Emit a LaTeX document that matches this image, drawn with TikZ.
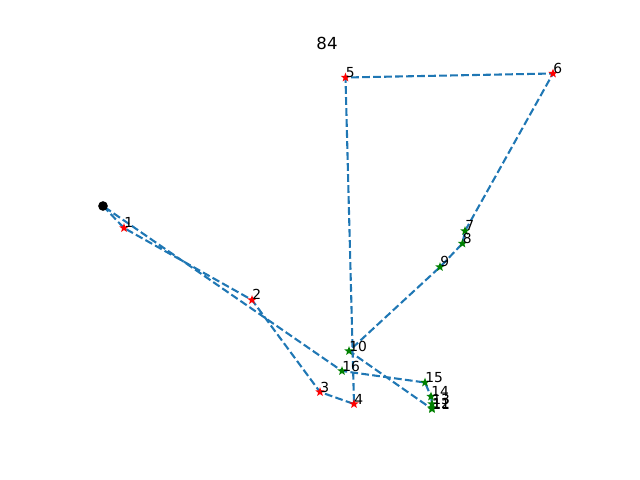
\documentclass[tikz,border=0pt]{standalone}
\usepackage{fontspec}
\setmainfont{DejaVu Sans}
\usetikzlibrary{shapes.geometric}
\definecolor{routeblue}{HTML}{1F77B4}
\definecolor{greenstar}{HTML}{008000}
\tikzset{
  route/.style={routeblue, line width=1.5pt, dash pattern=on 5.55pt off 2.4pt},
  client/.style={star, star points=5, star point ratio=2.4, minimum size=7pt, inner sep=0pt, fill=#1, draw=none},
  depot/.style={circle, fill=black, minimum size=7pt, inner sep=0pt},
  num/.style={anchor=base west, inner sep=0pt, font=\fontsize{10}{12}\selectfont}
}
\newcommand{\clientnode}[2]{\node[client=#2] (p#1) at (c#1) {}; \node[num] (n#1) at (c#1) {#1}}

\begin{document}
\begin{tikzpicture}[x=0.254mm, y=-0.254mm]
                \useasboundingbox (0,0) rectangle (640,480);
                \coordinate (c0) at (103,206);
                \coordinate (c1) at (124,228);
                \coordinate (c2) at (252,300);
                \coordinate (c3) at (320,392);
                \coordinate (c4) at (354,404);
                \coordinate (c5) at (345.5,77.5);
                \coordinate (c6) at (553,73.5);
                \coordinate (c7) at (465,231);
                \coordinate (c8) at (462.5,243.5);
                \coordinate (c9) at (440,267);
                \coordinate (c10) at (349,351);
                \coordinate (c11) at (432,409);
                \coordinate (c12) at (432,408);
                \coordinate (c13) at (432,404);
                \coordinate (c14) at (431,396.5);
                \coordinate (c15) at (425,382.5);
                \coordinate (c16) at (342,371);

                \draw[route] (c0) -- (c1) -- (c2) -- (c3) -- (c4) -- (c5) -- (c6) -- (c7) -- (c8)
                  -- (c9) -- (c10) -- (c11) -- (c12) -- (c13) -- (c14) -- (c15) -- (c16) -- (c0);

                \node[depot] (d0) at (c0) {};
                \clientnode{1}{red};
                \clientnode{2}{red};
                \clientnode{3}{red};
                \clientnode{4}{red};
                \clientnode{5}{red};
                \clientnode{6}{red};
                \clientnode{7}{greenstar};
                \clientnode{8}{greenstar};
                \clientnode{9}{greenstar};
                \clientnode{10}{greenstar};
                \clientnode{11}{greenstar};
                \clientnode{12}{greenstar};
                \clientnode{13}{greenstar};
                \clientnode{14}{greenstar};
                \clientnode{15}{greenstar};
                \clientnode{16}{greenstar};

                \node[font=\fontsize{12}{14}\selectfont] (title) at (327,43) {84};
            \end{tikzpicture}
\end{document}
